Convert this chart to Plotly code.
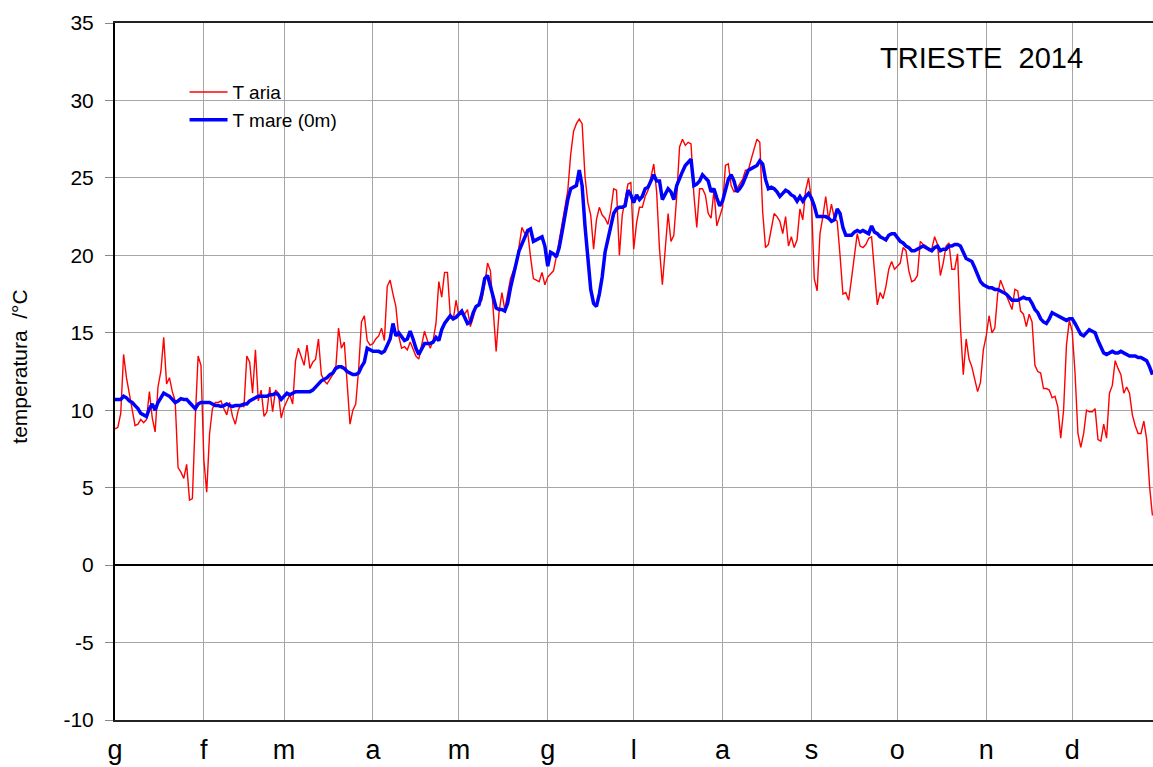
import plotly.graph_objects as go

# Day of year (0 = 1 January 2014)
month_start_days = [0, 31, 59, 90, 120, 151, 181, 212, 243, 273, 304, 334]
month_labels = ["g", "f", "m", "a", "m", "g", "l", "a", "s", "o", "n", "d"]

t_aria = [
    8.8, 8.9, 9.8, 13.6, 12.1, 11.0, 10.0, 9.0, 9.1, 9.4,      # 0-9
    9.2, 9.4, 11.2, 9.5, 8.6, 11.5, 12.5, 14.7, 11.7, 12.1,     # 10-19
    11.2, 10.6, 6.3, 6.0, 5.6, 6.5, 4.2, 4.3, 9.4, 13.5,        # 20-29
    12.9, 6.8, 4.7, 8.5, 10.1, 10.5, 10.5, 10.6, 10.1, 9.7,     # 30-39
    10.5, 9.6, 9.1, 10.0, 10.4, 10.2, 13.5, 13.1, 11.1, 13.9,   # 40-49
    10.6, 11.3, 9.6, 9.9, 11.5, 9.9, 11.3, 11.1, 9.5, 10.2,     # 50-59
    10.6, 11.0, 10.4, 13.2, 14.0, 13.4, 12.9, 14.2, 12.7, 13.1, # 60-69
    13.3, 14.6, 12.3, 11.9, 11.7, 12.0, 12.3, 12.6, 15.3, 14.0, # 70-79
    14.4, 11.8, 9.1, 10.0, 10.4, 12.6, 15.7, 16.1, 14.5, 14.2,  # 80-89
    14.3, 14.6, 14.8, 15.3, 14.5, 18.0, 18.4, 17.5, 16.7, 14.8, # 90-99
    14.0, 14.1, 13.9, 14.4, 14.0, 13.5, 13.3, 14.2, 15.1, 14.5, # 100-109
    14.0, 14.5, 15.6, 18.3, 17.3, 18.9, 18.9, 16.1, 15.8, 17.1, # 110-119
    16.1, 16.4, 16.2, 16.5, 15.4, 16.0, 16.7, 16.9, 17.1, 18.1, # 120-129
    19.5, 19.0, 16.5, 13.8, 16.3, 17.6, 16.5, 17.4, 18.5, 19.0, # 130-139
    19.5, 20.6, 21.8, 21.4, 21.5, 19.9, 18.5, 18.4, 18.3, 18.9, # 140-149
    18.1, 18.6, 18.8, 19.0, 19.9, 20.9, 21.9, 23.1, 24.2, 26.5, # 150-159
    28.0, 28.5, 28.8, 28.5, 25.1, 23.4, 22.6, 20.4, 22.3, 23.1, # 160-169
    22.6, 22.4, 22.0, 22.9, 24.3, 24.2, 20.0, 22.6, 23.6, 24.6, # 170-179
    24.7, 20.4, 22.1, 23.1, 23.1, 23.8, 24.2, 25.0, 25.9, 24.1, # 180-189
    20.4, 18.1, 20.6, 22.7, 20.9, 21.3, 23.8, 27.0, 27.5, 27.1, # 190-199
    27.3, 27.2, 23.9, 21.8, 24.3, 24.3, 23.9, 22.7, 22.4, 24.2, # 200-209
    21.9, 22.5, 23.1, 25.8, 25.9, 24.5, 24.1, 24.3, 24.6, 24.9, # 210-219
    25.5, 25.5, 26.2, 26.9, 27.5, 27.3, 22.8, 20.5, 20.7, 21.7, # 220-229
    22.7, 22.5, 22.2, 21.4, 22.5, 20.6, 21.2, 20.5, 21.0, 23.0, # 230-239
    22.3, 24.2, 25.0, 23.6, 18.5, 17.7, 21.4, 22.5, 23.8, 22.3, # 240-249
    23.3, 22.4, 22.2, 20.0, 17.5, 17.6, 17.1, 18.5, 19.8, 21.4, # 250-259
    20.6, 20.5, 20.7, 21.1, 21.2, 19.0, 16.8, 17.6, 17.2, 18.0, # 260-269
    19.1, 19.6, 19.1, 19.3, 19.5, 20.5, 20.3, 19.0, 18.3, 18.4, # 270-279
    18.7, 20.9, 20.7, 20.6, 20.3, 20.4, 21.2, 20.7, 18.7, 19.5, # 280-289
    20.6, 20.8, 19.1, 19.1, 20.1, 15.4, 12.3, 14.6, 13.3, 12.8, # 290-299
    12.0, 11.2, 11.8, 13.9, 14.8, 16.1, 15.0, 15.3, 17.5, 18.4, # 300-309
    17.9, 17.4, 16.9, 16.5, 17.8, 17.7, 16.4, 16.2, 15.4, 16.2, # 310-319
    15.7, 12.9, 12.5, 12.4, 11.4, 11.4, 11.3, 10.8, 10.9, 10.2, # 320-329
    8.2, 10.0, 14.2, 15.8, 15.1, 12.4, 8.5, 7.6, 8.5, 10.0,     # 330-339
    9.9, 9.9, 10.1, 8.1, 8.0, 9.1, 8.2, 11.1, 11.6, 13.2,       # 340-349
    12.7, 12.3, 11.1, 11.5, 11.1, 9.7, 9.0, 8.5, 8.5, 9.3,      # 350-359
    8.1, 5.1, 3.2,                                              # 360-362
]

t_mare = [
    10.7, 10.7, 10.7, 10.9, 10.8, 10.6, 10.5, 10.3, 10.1, 9.8,  # 0-9
    9.7, 9.6, 10.1, 10.4, 10.0, 10.5, 10.8, 11.1, 11.0, 10.9,   # 10-19
    10.7, 10.5, 10.6, 10.75, 10.7, 10.7, 10.5, 10.3, 10.1, 10.4, # 20-29
    10.5, 10.5, 10.5, 10.5, 10.4, 10.3, 10.3, 10.25, 10.3, 10.4, # 30-39
    10.3, 10.25, 10.3, 10.3, 10.3, 10.4, 10.4, 10.6, 10.7, 10.8, # 40-49
    10.9, 10.9, 10.9, 10.9, 11.0, 11.0, 11.1, 11.0, 10.7, 10.9, # 50-59
    11.1, 11.0, 11.1, 11.2, 11.2, 11.2, 11.2, 11.2, 11.2, 11.3, # 60-69
    11.5, 11.7, 11.9, 12.0, 12.1, 12.3, 12.4, 12.7, 12.8, 12.8, # 70-79
    12.7, 12.5, 12.4, 12.3, 12.3, 12.4, 12.8, 13.1, 14.0, 13.9, # 80-89
    13.8, 13.8, 13.8, 13.7, 13.8, 14.2, 14.6, 15.6, 14.8, 15.0, # 90-99
    14.7, 14.5, 14.6, 15.1, 14.6, 14.0, 13.6, 13.9, 14.3, 14.3, # 100-109
    14.3, 14.4, 14.7, 14.5, 15.2, 15.6, 15.9, 16.1, 15.9, 16.0, # 110-119
    16.2, 16.4, 16.0, 15.6, 15.7, 16.3, 16.7, 16.8, 17.5, 18.5, # 120-129
    18.7, 18.0, 17.1, 16.6, 16.5, 16.5, 16.4, 16.9, 17.9, 18.8, # 130-139
    19.5, 20.3, 20.7, 21.1, 21.6, 21.7, 20.9, 21.0, 21.1, 21.2, # 140-149
    20.6, 19.3, 20.2, 20.1, 19.9, 20.5, 21.5, 22.6, 23.6, 24.3, # 150-159
    24.4, 24.5, 25.5, 24.5, 21.9, 19.8, 17.8, 16.9, 16.7, 17.5, # 160-169
    18.6, 20.2, 21.0, 22.0, 22.7, 23.0, 23.1, 23.1, 23.2, 24.2, # 170-179
    23.9, 23.4, 23.9, 23.6, 23.8, 24.3, 24.4, 24.8, 25.2, 24.8, # 180-189
    24.8, 23.6, 24.0, 24.3, 24.1, 23.6, 24.5, 25.0, 25.4, 25.8, # 190-199
    26.0, 26.2, 24.5, 24.6, 24.8, 25.2, 25.0, 24.8, 24.1, 24.3, # 200-209
    23.7, 23.2, 23.5, 24.3, 24.9, 25.2, 24.8, 24.1, 24.3, 24.6, # 210-219
    25.1, 25.5, 25.6, 25.7, 25.8, 26.1, 25.9, 24.9, 24.3, 24.4, # 220-229
    24.3, 24.1, 23.8, 24.0, 24.2, 24.1, 23.9, 23.8, 23.5, 23.8, # 230-239
    23.5, 23.8, 24.0, 23.7, 23.2, 22.5, 22.5, 22.5, 22.5, 22.4, # 240-249
    22.2, 22.3, 23.0, 22.7, 21.8, 21.3, 21.3, 21.3, 21.5, 21.6, # 250-259
    21.5, 21.6, 21.5, 21.4, 21.9, 21.5, 21.4, 21.2, 21.1, 21.0, # 260-269
    21.3, 21.4, 21.4, 21.1, 20.9, 20.8, 20.6, 20.5, 20.3, 20.3, # 270-279
    20.4, 20.5, 20.6, 20.5, 20.4, 20.3, 20.5, 20.6, 20.3, 20.4, # 280-289
    20.4, 20.6, 20.6, 20.7, 20.7, 20.6, 20.2, 19.8, 19.7, 19.6, # 290-299
    19.2, 18.7, 18.3, 18.1, 18.0, 17.9, 17.9, 17.8, 17.8, 17.7, # 300-309
    17.6, 17.5, 17.3, 17.1, 17.1, 17.1, 17.2, 17.3, 17.2, 17.2, # 310-319
    16.9, 16.5, 16.3, 15.9, 15.7, 15.6, 15.9, 16.3, 16.2, 16.1, # 320-329
    16.0, 15.9, 15.8, 15.9, 15.9, 15.6, 15.2, 14.9, 14.8, 15.0, # 330-339
    15.2, 15.1, 15.0, 14.5, 14.1, 13.7, 13.6, 13.7, 13.8, 13.7, # 340-349
    13.7, 13.8, 13.7, 13.6, 13.5, 13.5, 13.5, 13.4, 13.4, 13.3, # 350-359
    13.2, 12.8, 12.3,                                           # 360-362
]

y_ticks = [-10, -5, 0, 5, 10, 15, 20, 25, 30, 35]
y_tick_labels = ["-10", "-5", "0", "5", "10", "15", "20", "25", "30", "35"]

days_aria = list(range(len(t_aria)))
days_mare = list(range(len(t_mare)))

FONT = "Arial, 'Liberation Sans', sans-serif"
GRID = "#a6a6a6"

fig = go.Figure()
fig.add_trace(go.Scatter(x=days_aria, y=t_aria, mode="lines", name="T aria",
                         line=dict(color="#ff0000", width=1.4)))
fig.add_trace(go.Scatter(x=days_mare, y=t_mare, mode="lines", name="T mare (0m)",
                         line=dict(color="#0000ff", width=3.5)))

fig.update_layout(
    width=1153, height=767,
    margin=dict(l=115, r=0, t=23, b=47),
    paper_bgcolor="white", plot_bgcolor="white",
    font=dict(family=FONT, color="black"),
    showlegend=True,
    legend=dict(x=0.067, y=0.928, xanchor="left", yanchor="top",
                bgcolor="rgba(0,0,0,0)", borderwidth=0,
                font=dict(size=19, family=FONT),
                itemwidth=38, tracegroupgap=2),
    xaxis=dict(range=[0, 362.2], tickmode="array", tickvals=month_start_days,
               ticktext=month_labels, showgrid=True, gridcolor=GRID, gridwidth=1.3,
               zeroline=False, showline=True, mirror=True, linecolor="#222222", linewidth=1.5,
               ticks="", tickfont=dict(size=27), ticklabelstandoff=5),
    yaxis=dict(range=[-10, 35], tickmode="array", tickvals=y_ticks, ticktext=y_tick_labels,
               showgrid=True, gridcolor=GRID, gridwidth=1.3,
               zeroline=True, zerolinecolor="black", zerolinewidth=1.8,
               showline=True, linecolor="black", linewidth=2,
               ticks="outside", ticklen=8, tickcolor="#888888", tickwidth=1.3,
               tickfont=dict(size=21), ticklabelstandoff=7),
    shapes=[dict(type="rect", xref="paper", yref="paper",
                 x0=0.0511, x1=0.2322, y0=0.8422, y1=0.9225,
                 fillcolor="white", line=dict(width=0), layer="below")],
    annotations=[
        dict(text="TRIESTE  2014", xref="paper", yref="paper",
             x=0.9345, y=0.95, xanchor="right", yanchor="middle",
             showarrow=False, font=dict(size=29, family=FONT)),
        dict(text="temperatura  /°C", xref="paper", yref="paper",
             x=-0.0915, y=0.507, xanchor="center", yanchor="middle", textangle=-90,
             showarrow=False, font=dict(size=21, family=FONT)),
    ],
)

fig.write_html("out.html", config={"displayModeBar": False},
               post_script="document.body.style.margin='0px';")
